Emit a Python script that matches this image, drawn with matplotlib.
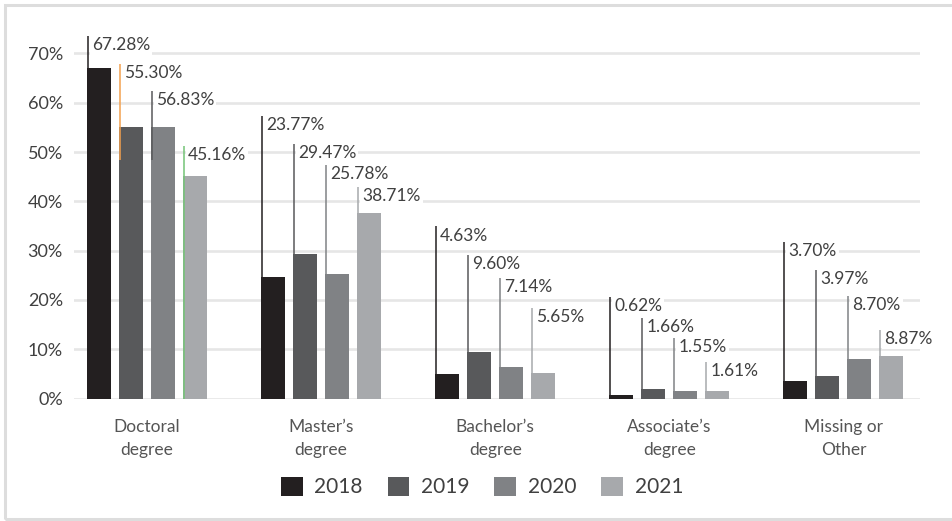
import matplotlib.pyplot as plt
import numpy as np
from matplotlib.patches import Rectangle

plt.rcParams['font.family'] = ['Lato', 'DejaVu Sans']

# data
categories = ['Doctoral\ndegree', 'Master\u2019s\ndegree', 'Bachelor\u2019s\ndegree',
              'Associate\u2019s\ndegree', 'Missing or\nOther']
years = ['2018', '2019', '2020', '2021']

# bar heights as drawn (%)
bars_2018 = [67.1, 24.6, 4.9, 0.8, 3.5]
bars_2019 = [55.0, 29.3, 9.4, 1.9, 4.5]
bars_2020 = [55.0, 25.2, 6.4, 1.5, 8.0]
bars_2021 = [45.1, 37.6, 5.1, 1.5, 8.6]

# printed labels (%)
labels_2018 = [67.28, 23.77, 4.63, 0.62, 3.70]
labels_2019 = [55.30, 29.47, 9.60, 1.66, 3.97]
labels_2020 = [56.83, 25.78, 7.14, 1.55, 8.70]
labels_2021 = [45.16, 38.71, 5.65, 1.61, 8.87]

# leader line top / bottom (%)
tops_2018 = [73.5, 57.3, 34.9, 20.6, 31.7]
tops_2019 = [67.8, 51.7, 29.2, 16.3, 26.0]
tops_2020 = [62.4, 47.3, 24.4, 12.2, 20.8]
tops_2021 = [51.2, 42.9, 18.4, 7.4, 13.9]
bottoms_2018 = [60.7, 0, 0, 0, 0]
bottoms_2019 = [48.4, 0, 0, 0, 0]
bottoms_2020 = [48.4, 0, 0, 0, 0]
bottoms_2021 = [0, 0, 0, 0, 0]

bar_colors = ['#231f20', '#58595b', '#808285', '#a7a9ac']
line_colors = [
    ['#231f20'] * 5,
    ['#f2a04e'] + ['#58595b'] * 4,
    ['#58595b'] + ['#808285'] * 4,
    ['#74c476'] + ['#a7a9ac'] * 4,
]

series = [bars_2018, bars_2019, bars_2020, bars_2021]
labels = [labels_2018, labels_2019, labels_2020, labels_2021]
tops = [tops_2018, tops_2019, tops_2020, tops_2021]
bottoms = [bottoms_2018, bottoms_2019, bottoms_2020, bottoms_2021]

W, H = 953, 521
fig = plt.figure(figsize=(W / 100, H / 100), dpi=100)
ax = fig.add_axes([74 / W, 122.5 / H, 846 / W, 394.3 / H])

x = np.arange(len(categories))
width = 0.138
step = 0.184
text_color = '#404040'

for i, yr in enumerate(years):
    xpos = x + (i - 1.5) * step
    ax.bar(xpos, series[i], width=width, color=bar_colors[i], label=yr, zorder=2)
    for j in range(len(categories)):
        lx = xpos[j] - width / 2 + 0.004
        ax.plot([lx, lx], [bottoms[i][j], tops[i][j]], color=line_colors[i][j],
                lw=1.1, zorder=3, solid_capstyle='butt', clip_on=False)
        ax.annotate(f'{labels[i][j]:.2f}%', (lx, tops[i][j]), xytext=(3, -6.5),
                    textcoords='offset points', ha='left', va='center',
                    fontsize=12.5, color=text_color, zorder=4,
                    bbox=dict(boxstyle='square,pad=0.12', fc='white', ec='none'))

ax.set_xlim(-0.42, 4.44)
ax.set_ylim(0, 80)
ax.set_yticks(np.arange(0, 71, 10))
ax.set_yticklabels([f'{v}%' for v in range(0, 71, 10)], fontsize=13, color=text_color)
ax.set_xticks(x)
ax.set_xticklabels(categories, fontsize=12.5, color='#555555', linespacing=1.55)
ax.tick_params(axis='both', length=0)
ax.tick_params(axis='y', pad=8)
ax.tick_params(axis='x', pad=14.5)
for v in range(0, 71, 10):
    ax.axhline(v, color='#e6e6e6', lw=1.9, zorder=1)
for s in ax.spines.values():
    s.set_visible(False)

fig.legend(loc='center', bbox_to_anchor=(482 / W, 1 - 487 / H), ncol=4, frameon=False,
           fontsize=15, handlelength=1.05, handleheight=1.05, handletextpad=0.55,
           columnspacing=1.2, labelcolor=text_color, borderpad=0)

fig.patches.append(Rectangle((5 / W, 2 / H), 960 / W, 514 / H, transform=fig.transFigure,
                             fill=False, ec='#dddddd', lw=2.2, zorder=0))

fig.savefig('out.png', dpi=100)
